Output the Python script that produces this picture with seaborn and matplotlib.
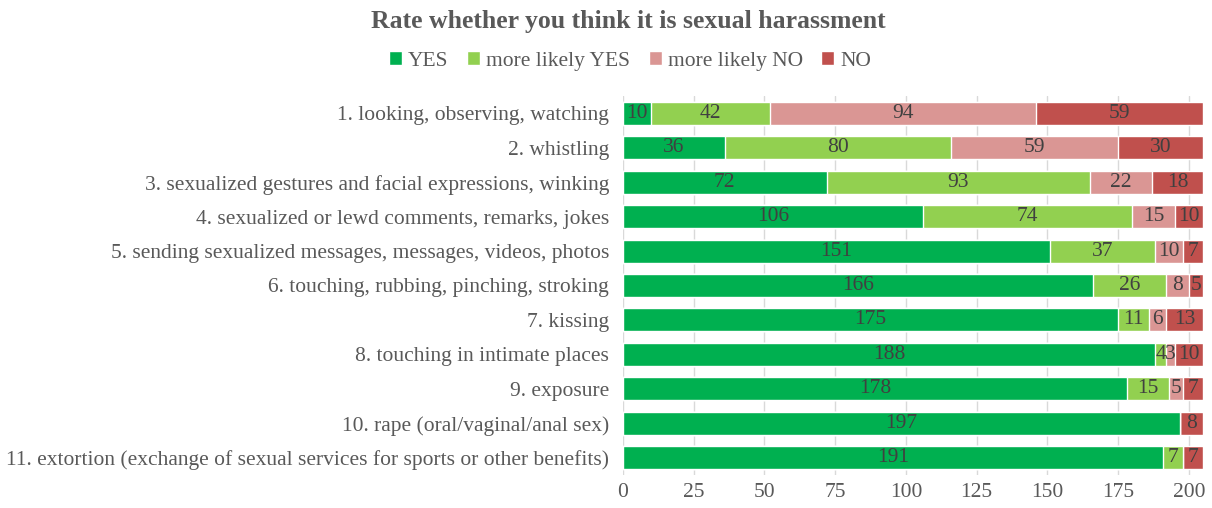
import pandas as pd
import matplotlib.pyplot as plt
import seaborn as sns
from matplotlib.patches import Patch

# Data
items = [
    '1. looking, observing, watching',
    '2. whistling',
    '3. sexualized gestures and facial expressions, winking',
    '4. sexualized or lewd comments, remarks, jokes',
    '5. sending sexualized messages, messages, videos, photos',
    '6. touching, rubbing, pinching, stroking',
    '7. kissing',
    '8. touching in intimate places',
    '9. exposure',
    '10. rape (oral/vaginal/anal sex)',
    '11. extortion (exchange of sexual services for sports or other benefits)',
]
yes = [10, 36, 72, 106, 151, 166, 175, 188, 178, 197, 191]
likely_yes = [42, 80, 93, 74, 37, 26, 11, 4, 15, 0, 7]
likely_no = [94, 59, 22, 15, 10, 8, 6, 3, 5, 0, 0]
no = [59, 30, 18, 10, 7, 5, 13, 10, 7, 8, 7]

series = ['YES', 'more likely YES', 'more likely NO', 'NO']
colors = ['#00B050', '#92D050', '#DA9694', '#C0504D']

df = pd.DataFrame({'item': items, 'YES': yes, 'more likely YES': likely_yes,
                   'more likely NO': likely_no, 'NO': no})
cum = df[series].cumsum(axis=1)

sns.set_theme(style='white')
plt.rcParams['font.family'] = ['Liberation Serif', 'DejaVu Serif']
txt = '#595959'
fs = 15.5

fig = plt.figure(figsize=(12.12, 5.08), dpi=100)
ax = fig.add_axes([0.514, 0.065, 0.4786, 0.746])

# overlay cumulative bars, longest first
for s, c in reversed(list(zip(series, colors))):
    sns.barplot(x=cum[s], y=df['item'], color=c, width=0.67, orient='h',
                saturation=1, ax=ax, zorder=2)

# segment labels
for i in range(len(df)):
    for s in series:
        v = df.loc[i, s]
        if v > 0:
            ax.text(cum.loc[i, s] - v / 2, i, str(v), ha='center', va='center',
                    fontsize=fs, color='#404040', zorder=3)

ax.set_xlim(0, 205)
ax.set_xticks(range(0, 201, 25))
ax.xaxis.grid(True, color='#D9D9D9', linewidth=1, zorder=0)
ax.set_axisbelow(True)
for sp in ax.spines.values():
    sp.set_visible(False)
ax.set_xlabel('')
ax.set_ylabel('')
ax.tick_params(axis='both', length=0, labelsize=fs, labelcolor=txt)
ax.tick_params(axis='y', pad=10)
ax.tick_params(axis='x', pad=6)

fig.text(0.518, 0.958, 'Rate whether you think it is sexual harassment',
         ha='center', va='center', fontsize=18.5, fontweight='bold', color=txt)

handles = [Patch(facecolor=c, label=s) for s, c in zip(series, colors)]
fig.legend(handles=handles, loc='center', bbox_to_anchor=(0.52, 0.88), ncol=4,
           frameon=False, fontsize=fs, handlelength=0.6, handleheight=0.6,
           handletextpad=0.3, columnspacing=0.85, labelcolor=txt)

plt.savefig('out.png', dpi=100)
plt.close()
